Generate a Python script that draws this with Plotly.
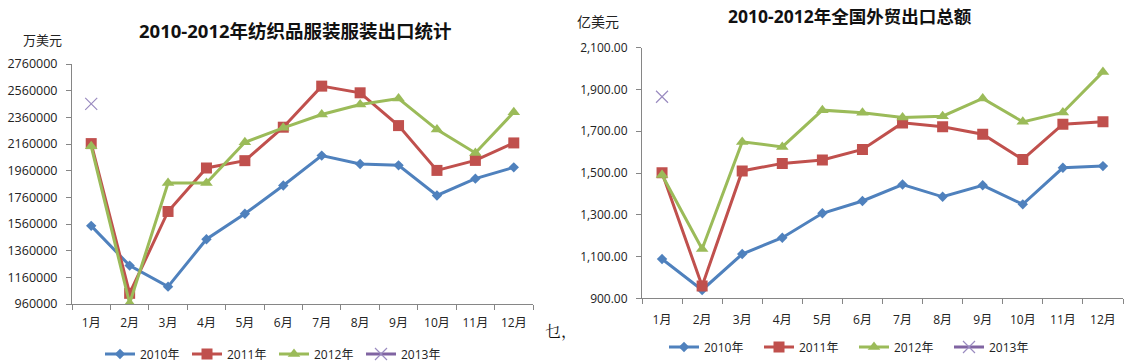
import plotly.graph_objects as go

W, H = 1127, 364

months = ["1月", "2月", "3月", "4月", "5月", "6月", "7月", "8月", "9月", "10月", "11月", "12月"]
series_names = ["2010年", "2011年", "2012年", "2013年"]

# Left chart: textile & garment exports (万美元)
tex_2010 = [1546000, 1248000, 1090000, 1446000, 1637000, 1849000, 2073000, 2010000, 2000000, 1774000, 1900000, 1985000]
tex_2011 = [2163000, 1040000, 1654000, 1980000, 2035000, 2286000, 2594000, 2544000, 2298000, 1962000, 2037000, 2168000]
tex_2012 = [2143000, 965000, 1867000, 1867000, 2173000, 2281000, 2381000, 2456000, 2501000, 2268000, 2093000, 2398000]
tex_2013 = [2461000, None, None, None, None, None, None, None, None, None, None, None]
tex_ticks = [960000, 1160000, 1360000, 1560000, 1760000, 1960000, 2160000, 2360000, 2560000, 2760000]

# Right chart: national total exports (亿美元)
tot_2010 = [1088, 940, 1112, 1190, 1307, 1366, 1445, 1386, 1441, 1350, 1525, 1533]
tot_2011 = [1501, 959, 1510, 1546, 1562, 1613, 1740, 1721, 1686, 1565, 1734, 1745]
tot_2012 = [1490, 1136, 1649, 1625, 1801, 1788, 1766, 1772, 1857, 1745, 1790, 1984]
tot_2013 = [1865, None, None, None, None, None, None, None, None, None, None, None]
tot_ticks = [900, 1100, 1300, 1500, 1700, 1900, 2100]

colors = ["#4F81BD", "#C0504D", "#9BBB59", "#8064A2"]
symbols = ["diamond", "square", "triangle-up", "x-thin-open"]
msizes = [8, 11, 11, 12]

FONT = "'Open Sans', 'Noto Sans CJK SC', sans-serif"
AX = "#868686"

fig = go.Figure()
left = [tex_2010, tex_2011, tex_2012, tex_2013]
right = [tot_2010, tot_2011, tot_2012, tot_2013]
for i, name in enumerate(series_names):
    mk = dict(symbol=symbols[i], size=msizes[i], color=colors[i])
    if i == 3:
        mk = dict(symbol=symbols[i], size=msizes[i], color="#9A8BC0", line=dict(color="#9A8BC0", width=1.2))
    fig.add_trace(go.Scatter(x=months, y=left[i], name=name, mode="lines+markers",
                             line=dict(color=colors[i], width=3), marker=mk,
                             xaxis="x", yaxis="y", legend="legend", connectgaps=False))
    fig.add_trace(go.Scatter(x=months, y=right[i], name=name, mode="lines+markers",
                             line=dict(color=colors[i], width=3), marker=mk,
                             xaxis="x2", yaxis="y2", legend="legend2", connectgaps=False))

def xax(domain, anchor, standoff):
    return dict(domain=domain, anchor=anchor, type="category", range=[-0.5, 11.5],
                tickson="boundaries", ticks="outside", ticklen=5, tickcolor=AX, tickangle=0,
                showline=True, linecolor=AX, linewidth=1, showgrid=False, zeroline=False,
                tickfont=dict(family=FONT, size=12, color="#222"), ticklabelstandoff=standoff,
                automargin=False, fixedrange=True)

def yax(domain, anchor, rng, ticks, fmt, fsize):
    return dict(domain=domain, anchor=anchor, range=rng, tickvals=ticks, tickformat=fmt,
                ticks="outside", ticklen=5, tickcolor=AX, showline=True, linecolor=AX,
                linewidth=1, showgrid=False, zeroline=False,
                tickfont=dict(family=FONT, size=fsize, color="#222"), ticklabelstandoff=6,
                automargin=False, fixedrange=True)

fig.update_layout(
    width=W, height=H, margin=dict(l=0, r=0, t=0, b=0, pad=0, autoexpand=False),
    paper_bgcolor="white", plot_bgcolor="white",
    font=dict(family=FONT, size=12, color="#222"),
    xaxis=xax([72 / W, 533 / W], "y", 8),
    yaxis=yax([(H - 304) / H, (H - 64) / H], "x", [960000, 2760000], tex_ticks, "d", 12.5),
    xaxis2=xax([642 / W, 1123 / W], "y2", 10),
    yaxis2=yax([(H - 298.3) / H, (H - 47.7) / H], "x2", [900, 2100], tot_ticks, ",.2f", 12),
    legend=dict(orientation="h", x=100 / W, xanchor="left", y=(H - 354) / H, yanchor="middle",
                entrywidth=42, entrywidthmode="pixels", font=dict(family=FONT, size=12, color="#222"),
                bgcolor="rgba(0,0,0,0)", tracegroupgap=0),
    legend2=dict(orientation="h", x=664 / W, xanchor="left", y=(H - 347) / H, yanchor="middle",
                 entrywidth=50, entrywidthmode="pixels", font=dict(family=FONT, size=12, color="#222"),
                 bgcolor="rgba(0,0,0,0)", tracegroupgap=0),
    annotations=[
        dict(text="<b>2010-2012年纺织品服装服装出口统计</b>", x=295 / W, y=(H - 30) / H,
             xref="paper", yref="paper", showarrow=False, xanchor="center", yanchor="middle",
             font=dict(family=FONT, size=18.5, color="#111")),
        dict(text="<b>2010-2012年全国外贸出口总额</b>", x=850 / W, y=(H - 16) / H,
             xref="paper", yref="paper", showarrow=False, xanchor="center", yanchor="middle",
             font=dict(family=FONT, size=17.5, color="#111")),
        dict(text="万美元", x=42 / W, y=(H - 40) / H, xref="paper", yref="paper",
             showarrow=False, xanchor="center", yanchor="middle",
             font=dict(family=FONT, size=13, color="#222")),
        dict(text="亿美元", x=598 / W, y=(H - 21) / H, xref="paper", yref="paper",
             showarrow=False, xanchor="center", yanchor="middle",
             font=dict(family=FONT, size=14, color="#222")),
        dict(text="乜，", x=543 / W, y=(H - 330) / H, xref="paper", yref="paper",
             showarrow=False, xanchor="left", yanchor="middle",
             font=dict(family="'Noto Serif CJK SC', 'Noto Sans CJK SC', serif", size=16, color="#111")),
    ],
)

fig.write_html("out.html", config={"displayModeBar": False},
               post_script="document.body.style.margin='0';document.body.style.padding='0';"
                           "document.documentElement.style.overflow='hidden';")
